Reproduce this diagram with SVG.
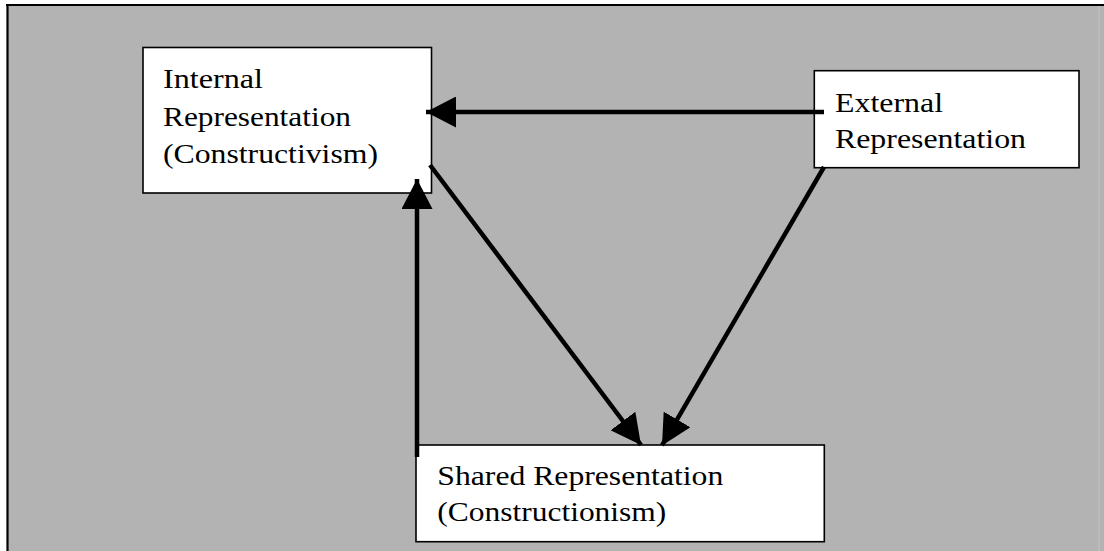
<svg xmlns="http://www.w3.org/2000/svg" width="1104" height="551" viewBox="0 0 1104 551">
<style>
.box{fill:#fff;stroke:#000;stroke-width:1.6}
.lbl{font-family:"Liberation Serif","Times New Roman",serif;font-size:27px;fill:#000}
.conn{stroke:#000;stroke-width:4.5;fill:none}
</style>
<defs>
<marker id="ah" viewBox="0 0 30 31" refX="30" refY="15.5" markerWidth="30" markerHeight="31" markerUnits="userSpaceOnUse" orient="auto">
<path d="M0,0 L30,15.5 L0,31 Z" fill="#000"/>
</marker>
</defs>
<rect x="0" y="0" width="1104" height="551" fill="#fff"/>
<rect x="7" y="4" width="1097" height="547" fill="#b3b3b3"/>
<line x1="1099" y1="5" x2="1099" y2="551" stroke="#c4c4c4" stroke-width="1"/>
<line x1="6" y1="5" x2="1104" y2="5" stroke="#000" stroke-width="2"/>
<line x1="7.5" y1="4" x2="7.5" y2="551" stroke="#000" stroke-width="2.2"/>
<g id="internal">
<rect class="box" x="143" y="47.5" width="288.5" height="145.5"/>
<text class="lbl" x="163" y="88" textLength="100" lengthAdjust="spacingAndGlyphs">Internal</text>
<text class="lbl" x="163" y="125.5" textLength="188" lengthAdjust="spacingAndGlyphs">Representation</text>
<text class="lbl" x="163" y="163" textLength="215" lengthAdjust="spacingAndGlyphs">(Constructivism)</text>
</g>
<g id="external">
<rect class="box" x="814.3" y="70.7" width="264.7" height="97"/>
<text class="lbl" x="835" y="111.5" textLength="108" lengthAdjust="spacingAndGlyphs">External</text>
<text class="lbl" x="835" y="148.3" textLength="191" lengthAdjust="spacingAndGlyphs">Representation</text>
</g>
<g id="shared">
<rect class="box" x="416" y="445" width="408.3" height="96.7"/>
<text class="lbl" x="437.3" y="485" textLength="286" lengthAdjust="spacingAndGlyphs">Shared Representation</text>
<text class="lbl" x="437.3" y="521" textLength="229" lengthAdjust="spacingAndGlyphs">(Constructionism)</text>
</g>
<g id="connectors">
<line class="conn" x1="824" y1="112" x2="426" y2="112" marker-end="url(#ah)"/>
<line class="conn" x1="417" y1="457" x2="417" y2="179" marker-end="url(#ah)"/>
<line class="conn" x1="430" y1="165" x2="641" y2="445" marker-end="url(#ah)"/>
<line class="conn" x1="824" y1="167" x2="662" y2="445.4" marker-end="url(#ah)"/>
</g>
</svg>
